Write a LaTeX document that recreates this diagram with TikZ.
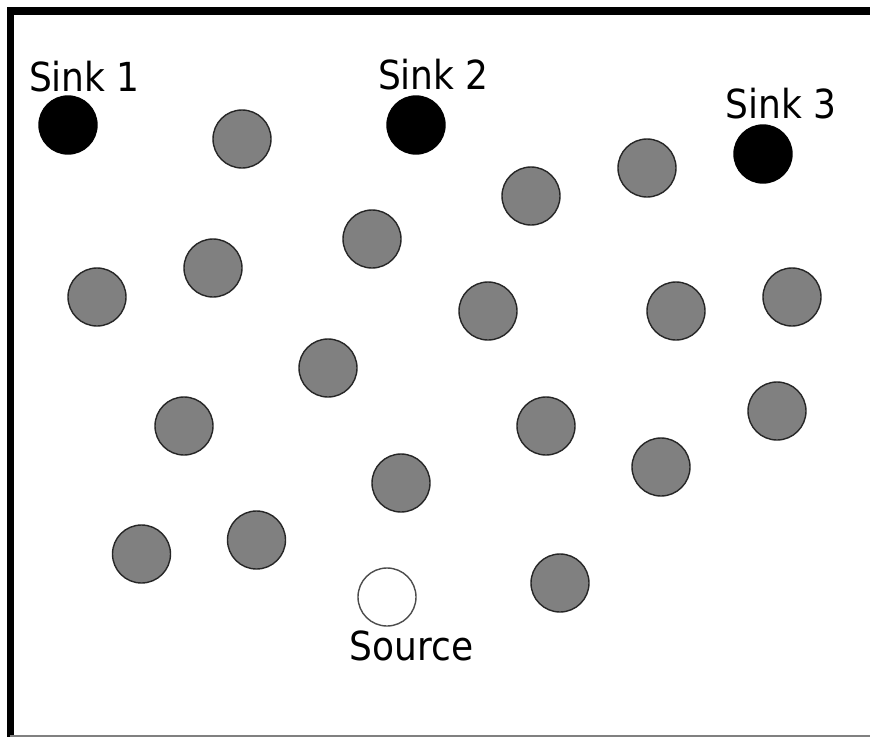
\documentclass[tikz,border=0pt]{standalone}
\usepackage{fontspec}
\setmainfont{DejaVu Sans Condensed}
\begin{document}
\begin{tikzpicture}[x=1pt,y=-1pt,
  sensor/.style={circle,draw=black!85,line width=1.4pt,fill=black!50,minimum size=58pt,inner sep=0pt},
  sinknode/.style={circle,draw=black,line width=1.4pt,fill=black,minimum size=58pt,inner sep=0pt},
  srcnode/.style={circle,draw=black!70,line width=1.4pt,fill=white,minimum size=58pt,inner sep=0pt},
  lbl/.style={font=\fontsize{40}{44}\selectfont,inner sep=0pt,anchor=base}]
\useasboundingbox (0,0) rectangle (870,737);
\fill[white] (0,0) rectangle (870,737);
% frame
\draw[line width=7.5pt,line join=miter] (870,11) -- (10.5,11) -- (10.5,737);
\draw[black!50,line width=1.5pt] (10,736) -- (870,736);
% sinks and source
\node[sinknode] (s1) at (68,125) {};
\node[sinknode] (s2) at (416,125) {};
\node[sinknode] (s3) at (763,154) {};
\node[srcnode] (src) at (387,597) {};
\node[lbl] (l1) at (84.5,91) {Sink 1};
\node[lbl] (l2) at (433.5,89) {Sink 2};
\node[lbl] (l3) at (781,118) {Sink 3};
\node[lbl] (ls) at (411.5,660) {Source};
% sensors
\node[sensor] (n1) at (242,139) {};
\node[sensor] (n2) at (647,168) {};
\node[sensor] (n3) at (531,196) {};
\node[sensor] (n4) at (372,239) {};
\node[sensor] (n5) at (213,268) {};
\node[sensor] (n6) at (97,297) {};
\node[sensor] (n7) at (488,311) {};
\node[sensor] (n8) at (676,311) {};
\node[sensor] (n9) at (792,297) {};
\node[sensor] (n10) at (328,368) {};
\node[sensor] (n11) at (184,426) {};
\node[sensor] (n12) at (546,426) {};
\node[sensor] (n13) at (777,411) {};
\node[sensor] (n14) at (661,467) {};
\node[sensor] (n15) at (401,483) {};
\node[sensor] (n16) at (141.5,554) {};
\node[sensor] (n17) at (256.5,540) {};
\node[sensor] (n18) at (560,583) {};
\end{tikzpicture}
\end{document}
